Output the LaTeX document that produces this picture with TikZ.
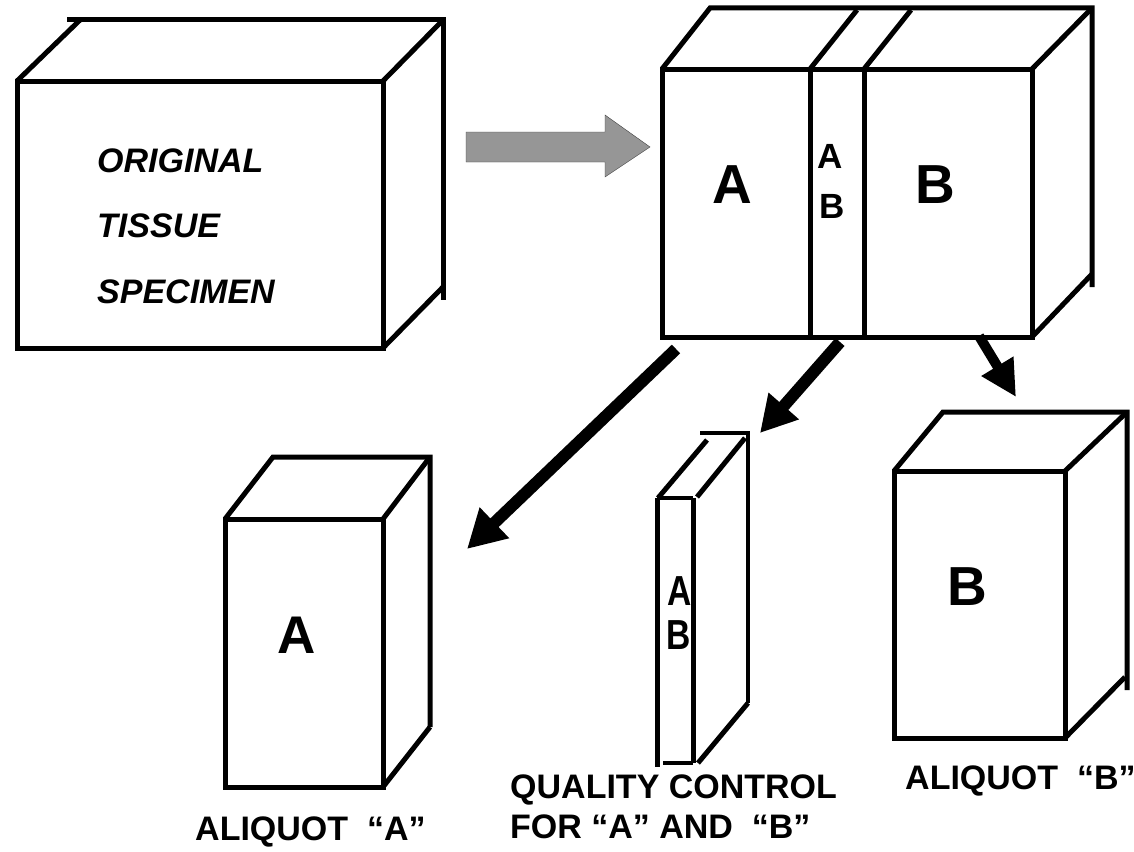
\documentclass[tikz,border=0pt]{standalone}
\usepackage{fontspec}
\setmainfont{Liberation Sans}
\usepackage{tikz}
\usetikzlibrary{arrows.meta}
\definecolor{arrowgrey}{RGB}{150,150,150}

\begin{document}
\begin{tikzpicture}[x=1pt,y=-1pt,
    edge/.style={line width=5pt},
    push/.style={line width=12pt,-{Triangle[length=38pt,width=40pt]}},
    big/.style={font=\bfseries\fontsize{55}{55}\selectfont,inner sep=0pt,anchor=base},
    small/.style={font=\bfseries\fontsize{35}{35}\selectfont,inner sep=0pt,anchor=base},
    caption/.style={font=\bfseries\fontsize{34}{34}\selectfont,inner sep=0pt,anchor=base west}]
  \useasboundingbox (0,0) rectangle (1134,851);

  % original specimen
  \draw[edge] (17,81) rectangle (383,348);
  \draw[edge] (17,81) -- (80,20);
  \draw[edge] (67,20) -- (443,20) -- (443,300);
  \draw[edge] (383,81) -- (443,20);
  \draw[edge] (383,348) -- (443,287);
  \node[caption,font=\bfseries\itshape\fontsize{34}{34}\selectfont] (orig1) at (97,172) {ORIGINAL};
  \node[caption,font=\bfseries\itshape\fontsize{34}{34}\selectfont] (orig2) at (97,237) {TISSUE};
  \node[caption,font=\bfseries\itshape\fontsize{34}{34}\selectfont] (orig3) at (97,303) {SPECIMEN};

  % grey arrow
  \draw[fill=arrowgrey,draw=black!75,thin]
    (466,132) -- (605,132) -- (605,115) -- (650,147)
    -- (605,177) -- (605,162) -- (466,162) -- cycle;

  % divided specimen
  \draw[edge] (662,69) rectangle (1032,337);
  \draw[edge] (810,69) -- (810,337);
  \draw[edge] (864,69) -- (864,337);
  \draw[edge] (662,69) -- (710,8) -- (1092,8) -- (1092,287);
  \draw[edge] (810,69) -- (857,10);
  \draw[edge] (864,69) -- (911,10);
  \draw[edge] (1032,69) -- (1092,8);
  \draw[edge] (1032,337) -- (1092,274);
  \node[big] (partA) at (732,203) {A};
  \node[big] (partB) at (935,203) {B};
  \node[small] (qcA) at (830,168) {A};
  \node[small] (qcB) at (832,218) {B};

  % aliquot A
  \draw[edge] (225,519) rectangle (383,787);
  \draw[edge] (225,519) -- (273,457) -- (430,457) -- (430,727);
  \draw[edge] (383,519) -- (430,457);
  \draw[edge] (383,787) -- (430,727);
  \node[big,font=\bfseries\fontsize{53}{53}\selectfont] (aliA) at (297,653) {A};
  \node[caption] (capA) at (195,840) {ALIQUOT~~“A”};

  % quality control slice
  \draw[edge] (657,498) -- (657,767);
  \draw[edge] (693,498) -- (693,763);
  \draw[line width=3.5pt] (657,498) -- (693,498);
  \draw[line width=3.5pt] (663,763) -- (693,763);
  \draw[line width=3.5pt] (700,433) -- (748,433) -- (748,703);
  \draw[edge] (658,498) -- (707,440);
  \draw[edge] (697,497) -- (745,438);
  \draw[edge] (698,763) -- (748,703);
  \node[small,font=\bfseries\fontsize{42}{42}\selectfont] (sliceA) at (680,605) {\scalebox{0.8}[1]{A}};
  \node[small,font=\bfseries\fontsize{42}{42}\selectfont] (sliceB) at (679,649) {\scalebox{0.8}[1]{B}};
  \node[caption] (capQC1) at (510,798) {QUALITY CONTROL};
  \node[caption] (capQC2) at (510,838) {FOR “A” AND~~“B”};

  % aliquot B
  \draw[edge] (894,471) rectangle (1065,738);
  \draw[edge] (894,471) -- (943,412) -- (1127,412) -- (1127,690);
  \draw[edge] (1065,471) -- (1127,412);
  \draw[edge] (1065,738) -- (1125,677);
  \node[big] (aliB) at (967,605) {B};
  \node[caption] (capB) at (905,789) {ALIQUOT~~“B”};

  % black arrows
  \coordinate (cutA) at (676,349);
  \coordinate (toA) at (467,549);
  \coordinate (cutQC) at (840,342);
  \coordinate (toQC) at (760,433);
  \coordinate (cutB) at (979,336);
  \coordinate (toB) at (1016,397);
  \draw[push] (cutA) -- (toA);
  \draw[push,-{Triangle[length=36pt,width=38pt]}] (cutQC) -- (toQC);
  \draw[push,line width=10pt,-{Triangle[length=36pt,width=35pt]}] (cutB) -- (toB);
\end{tikzpicture}
\end{document}
